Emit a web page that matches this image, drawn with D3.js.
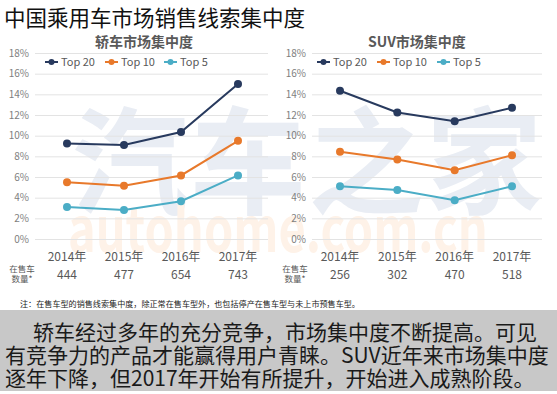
<!DOCTYPE html>
<html><head><meta charset="utf-8">
<script src="https://cdn.jsdelivr.net/npm/d3@7/dist/d3.min.js"></script>
<style>
body{margin:0;background:#fff;}
text{font-family:"Noto Sans CJK SC","Open Sans",sans-serif;}
</style></head><body>
<svg id="c" width="557" height="394"></svg>
<script>
const years = ["2014年","2015年","2016年","2017年"];
const seriesNames = ["Top 20","Top 10","Top 5"];
const seriesColors = ["#283a5e","#e8792b","#4badc6"];
const yTicks = [0,2,4,6,8,10,12,14,16,18];
const sedanTop20 = [9.25, 9.1, 10.35, 15.0];
const sedanTop10 = [5.5, 5.15, 6.15, 9.5];
const sedanTop5  = [3.1, 2.8, 3.65, 6.15];
const sedanCounts = [444, 477, 654, 743];
const suvTop20 = [14.35, 12.25, 11.4, 12.7];
const suvTop10 = [8.45, 7.7, 6.65, 8.1];
const suvTop5  = [5.1, 4.75, 3.75, 5.1];
const suvCounts = [256, 302, 470, 518];
const mainTitle = "中国乘用车市场销售线索集中度";
const note = "注：在售车型的销售线索集中度，除正常在售车型外，也包括停产在售车型与未上市预售车型。";
const summary = ["轿车经过多年的充分竞争，市场集中度不断提高。可见","有竞争力的产品才能赢得用户青睐。SUV近年来市场集中度","逐年下降，但2017年开始有所提升，开始进入成熟阶段。"];

const svg = d3.select("#c");

// watermark
svg.append("text").attr("x",72).attr("y",205).attr("font-size",116).attr("font-weight",700)
  .attr("fill","#e9edf4").attr("letter-spacing",2).text("汽车之家");
const wm = svg.append("text").attr("font-size",62).attr("font-weight",700)
  .attr("fill","#fef2e8").attr("font-family","DejaVu Sans").text("autohome.com.cn");
const wmLen = wm.node().getComputedTextLength() || 650;
wm.attr("transform",`translate(68,252) scale(${420/wmLen},1)`);

svg.append("text").attr("x",4).attr("y",26).attr("font-size",21.5).attr("fill","#111").text(mainTitle);

const y = d3.scaleLinear().domain([0,18]).range([239,53]);

function panel(cfg){
  const x = d3.scalePoint().domain(years).range(cfg.xr);
  const g = svg.append("g");
  const ax = g.append("g").attr("transform",`translate(${cfg.gx0},0)`)
    .call(d3.axisLeft(y).tickValues(yTicks).tickFormat(d=>d+"%").tickSize(-(cfg.gx1-cfg.gx0)).tickPadding(6));
  ax.select(".domain").remove();
  ax.selectAll("line").attr("stroke","#e3e3e3").attr("stroke-width",1);
  ax.selectAll("text").attr("font-size",10).attr("fill","#7f7f7f").attr("font-family","Open Sans");
  g.append("text").attr("x",cfg.tc).attr("y",47).attr("text-anchor","middle").attr("font-size",14)
    .attr("font-weight",700).attr("fill","#595959").text(cfg.title);
  // legend
  cfg.legX.forEach((lx,i)=>{
    const lg = g.append("g").attr("transform",`translate(${lx},62)`);
    lg.append("line").attr("x1",0).attr("x2",13).attr("stroke",seriesColors[i]).attr("stroke-width",2);
    lg.append("circle").attr("cx",6.5).attr("r",3).attr("fill",seriesColors[i]);
    lg.append("text").attr("x",16).attr("y",4).attr("font-size",11).attr("fill","#595959")
      .attr("font-family","Open Sans").text(seriesNames[i]);
  });
  const line = d3.line().x((d,i)=>x(years[i])).y(d=>y(d));
  cfg.data.forEach((arr,si)=>{
    g.append("path").datum(arr).attr("d",line).attr("fill","none")
      .attr("stroke",seriesColors[si]).attr("stroke-width",2);
    g.selectAll(null).data(arr).enter().append("circle")
      .attr("cx",(d,i)=>x(years[i])).attr("cy",d=>y(d)).attr("r",4).attr("fill",seriesColors[si]);
  });
  g.selectAll(null).data(years).enter().append("text")
    .attr("x",d=>x(d)).attr("y",261).attr("text-anchor","middle").attr("font-size",12)
    .attr("fill","#595959").text(d=>d);
  g.selectAll(null).data(cfg.counts).enter().append("text")
    .attr("x",(d,i)=>x(years[i])).attr("y",279).attr("text-anchor","middle").attr("font-size",12)
    .attr("fill","#595959").attr("font-family","Open Sans").text(d=>d);
  g.append("text").attr("x",cfg.lc).attr("y",272).attr("text-anchor","middle").attr("font-size",8.5)
    .attr("fill","#595959").text("在售车");
  g.append("text").attr("x",cfg.lc).attr("y",282).attr("text-anchor","middle").attr("font-size",8.5)
    .attr("fill","#595959").text("数量*");
}

panel({xr:[67,238], gx0:35, gx1:268, tc:144, title:"轿车市场集中度", legX:[45,105,164],
  data:[sedanTop20,sedanTop10,sedanTop5], counts:sedanCounts, lc:22});
panel({xr:[340,512], gx0:312, gx1:542, tc:417, title:"SUV市场集中度", legX:[317,377,437],
  data:[suvTop20,suvTop10,suvTop5], counts:suvCounts, lc:295});

svg.append("text").attr("x",20).attr("y",307).attr("font-size",8.1).attr("fill","#222").text(note);

svg.append("rect").attr("x",0).attr("y",310).attr("width",557).attr("height",81).attr("fill","#c8c8c8");
const lx = [33,5,5];
summary.forEach((s,i)=>{
  svg.append("text").attr("x",lx[i]).attr("y",340+i*23).attr("font-size",21).attr("fill","#1a1a1a").text(s);
});
</script></body></html>
